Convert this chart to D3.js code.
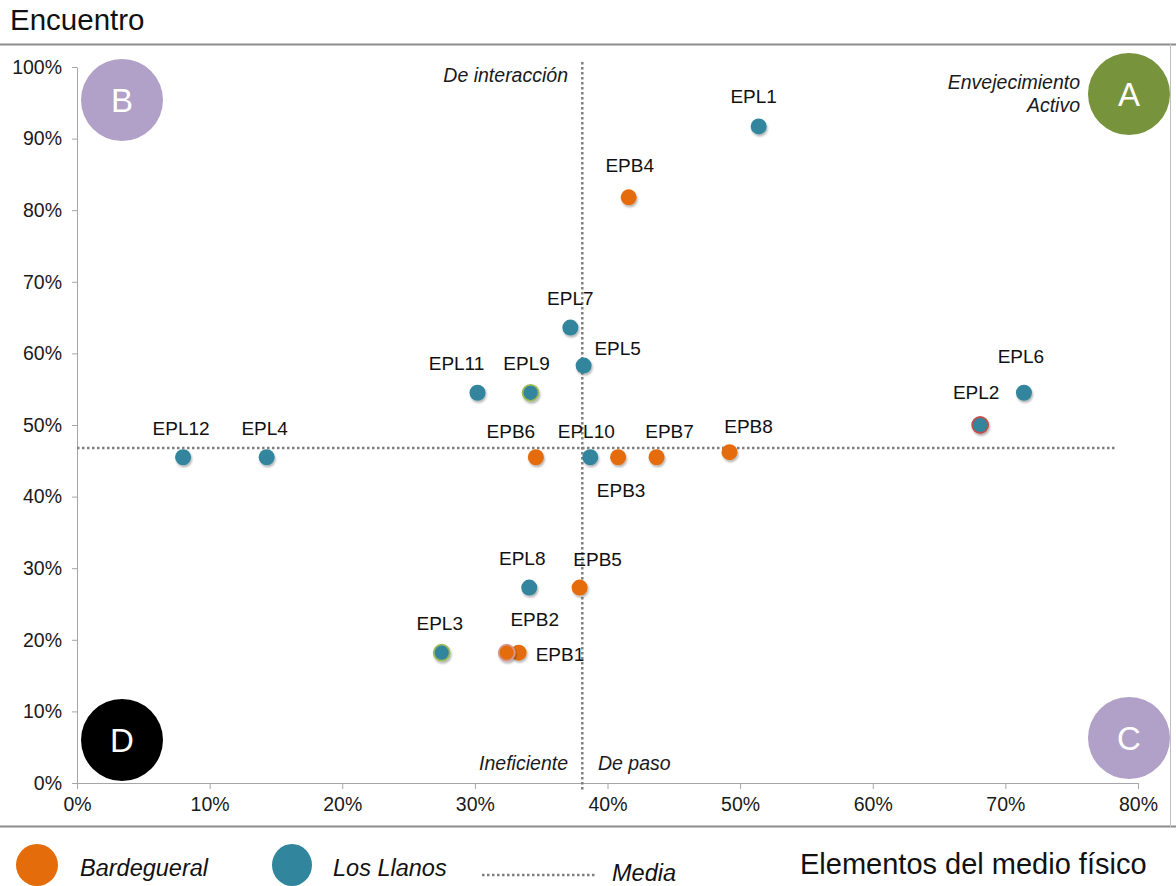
<!DOCTYPE html>
<html>
<head>
<meta charset="utf-8">
<script src="https://d3js.org/d3.v7.min.js"></script>
<style>
  body { margin: 0; background: #fff; font-family: "Liberation Sans", Arial, Helvetica, sans-serif; }
  svg text { font-family: "Liberation Sans", Arial, Helvetica, sans-serif; }
</style>
</head>
<body>
<script>
  // Bardegueral
  const barNames = ['EPB1', 'EPB2', 'EPB3', 'EPB4', 'EPB5', 'EPB6', 'EPB7', 'EPB8']
  const barX = [33.3, 32.4, 40.8, 41.6, 37.9, 34.6, 43.7, 49.2]
  const barY = [18.2, 18.2, 45.5, 81.8, 27.3, 45.5, 45.5, 46.2]

  // Los Llanos
  const llaNames = ['EPL1', 'EPL2', 'EPL3', 'EPL4', 'EPL5', 'EPL6', 'EPL7', 'EPL8', 'EPL9', 'EPL10', 'EPL11', 'EPL12']
  const llaX = [51.4, 68.1, 27.5, 14.3, 38.2, 71.4, 37.2, 34.1, 34.2, 38.7, 30.2, 8.0]
  const llaY = [91.7, 50.0, 18.2, 45.5, 58.3, 54.5, 63.6, 27.3, 54.5, 45.5, 54.5, 45.5]

  // media
  const mediaX = 38.1
  const mediaY = 46.8

  const xTicks = [0, 10, 20, 30, 40, 50, 60, 70, 80]
  const yTicks = [0, 10, 20, 30, 40, 50, 60, 70, 80, 90, 100]

  // label placement (dx, dy from point centre)
  const labelPos = {
    EPB1: [17, 8, 'start'], EPB2: [28, -27, 'middle'], EPB3: [3, 40, 'middle'], EPB4: [1, -25, 'middle'],
    EPB5: [18, -22, 'middle'], EPB6: [-25, -19, 'middle'], EPB7: [13, -19, 'middle'], EPB8: [19, -19, 'middle'],
    EPL1: [-5, -23, 'middle'], EPL2: [-4, -26, 'middle'], EPL3: [-2, -23, 'middle'], EPL4: [-2, -22, 'middle'],
    EPL5: [34, -11, 'middle'], EPL6: [-3, -30, 'middle'], EPL7: [0, -23, 'middle'], EPL8: [-7, -23, 'middle'],
    EPL9: [-4, -23, 'middle'], EPL10: [-4, -19, 'middle'], EPL11: [-21, -23, 'middle'], EPL12: [-2, -22, 'middle']
  }
  // outlined points
  const outline = { EPL9: '#9bbb59', EPL3: '#9bbb59', EPL2: '#c0504d', EPB2: '#d99694' }

  const orange = '#e46c0a'
  const teal = '#31859c'

  const width = 1176
  const height = 886

  const svg = d3.select('body').append('svg').attr('width', width).attr('height', height)

  const defs = svg.append('defs')
  const f = defs.append('filter').attr('id', 'sh').attr('x', '-50%').attr('y', '-50%').attr('width', '200%').attr('height', '200%')
  f.append('feDropShadow').attr('dx', 1).attr('dy', 2).attr('stdDeviation', 1.2).attr('flood-color', '#000').attr('flood-opacity', 0.3)

  const x = d3.scaleLinear().domain([0, 80]).range([77, 1138])
  const y = d3.scaleLinear().domain([0, 100]).range([783, 67])

  // frame
  svg.append('line').attr('x1', 0).attr('x2', width).attr('y1', 44.5).attr('y2', 44.5).style('stroke', '#8c8c8c').style('stroke-width', 2)
  svg.append('line').attr('x1', 0).attr('x2', width).attr('y1', 826.5).attr('y2', 826.5).style('stroke', '#8c8c8c').style('stroke-width', 2)
  svg.append('line').attr('x1', 1170.5).attr('x2', 1170.5).attr('y1', 44).attr('y2', 827).style('stroke', '#bfbfbf').style('stroke-width', 1)

  svg.append('text').attr('x', 10).attr('y', 30).style('font-size', '29.5px').style('fill', '#111').text('Encuentro')

  // axes
  const axisX = d3.axisBottom(x).tickValues(xTicks).tickFormat(d => d + '%').tickSize(6).tickSizeOuter(0)
  const axisY = d3.axisLeft(y).tickValues(yTicks).tickFormat(d => d + '%').tickSize(5).tickSizeOuter(0)

  const gx = svg.append('g').attr('transform', 'translate(0,783)').call(axisX)
  const gy = svg.append('g').attr('transform', 'translate(77,0)').call(axisY)
  ;[gx, gy].forEach(g => {
    g.select('.domain').style('stroke', '#a6a6a6')
    g.selectAll('.tick line').style('stroke', '#a6a6a6')
    g.selectAll('.tick text').style('font-size', '19.5px').style('fill', '#1a1a1a')
  })
  gx.selectAll('.tick text').attr('dy', '0.95em')
  gy.selectAll('.tick text').attr('x', -15)

  // media lines
  svg.append('line')
    .attr('x1', x(mediaX)).attr('x2', x(mediaX)).attr('y1', 62).attr('y2', 790)
    .style('stroke', '#7f7f7f').style('stroke-width', 2.5).style('stroke-dasharray', '2.5,2.5')
  svg.append('line')
    .attr('x1', x(0)).attr('x2', 1116).attr('y1', y(mediaY)).attr('y2', y(mediaY))
    .style('stroke', '#7f7f7f').style('stroke-width', 2.5).style('stroke-dasharray', '2.5,2.5')

  // quadrant badges
  const badges = [
    { t: 'B', cx: 122, cy: 100, c: '#b1a0c7' },
    { t: 'A', cx: 1129, cy: 94, c: '#77933c' },
    { t: 'D', cx: 122, cy: 740, c: '#000000' },
    { t: 'C', cx: 1129, cy: 738, c: '#b1a0c7' }
  ]
  const bg = svg.append('g').selectAll('g').data(badges).join('g')
  bg.append('circle').attr('cx', d => d.cx).attr('cy', d => d.cy).attr('r', 41).style('fill', d => d.c)
  bg.append('text').attr('x', d => d.cx).attr('y', d => d.cy + 12).attr('text-anchor', 'middle')
    .style('font-size', '33px').style('fill', '#fff').text(d => d.t)

  // quadrant names
  const qn = [
    { t: 'De interacción', x: 568, y: 82, a: 'end' },
    { t: 'Envejecimiento', x: 1080, y: 89, a: 'end' },
    { t: 'Activo', x: 1080, y: 112, a: 'end' },
    { t: 'Ineficiente', x: 568, y: 770, a: 'end' },
    { t: 'De paso', x: 598, y: 770, a: 'start' }
  ]
  svg.append('g').selectAll('text').data(qn).join('text')
    .attr('x', d => d.x).attr('y', d => d.y).attr('text-anchor', d => d.a)
    .style('font-size', '19.5px').style('font-style', 'italic').style('fill', '#1a1a1a')
    .text(d => d.t)

  // points
  const points = barNames.map((n, i) => ({ name: n, x: barX[i], y: barY[i], c: orange }))
    .concat(llaNames.map((n, i) => ({ name: n, x: llaX[i], y: llaY[i], c: teal })))

  svg.append('g').selectAll('circle').data(points).join('circle')
    .attr('cx', d => x(d.x)).attr('cy', d => y(d.y)).attr('r', 8)
    .style('fill', d => d.c)
    .style('stroke', d => outline[d.name] || d.c)
    .style('stroke-width', d => outline[d.name] ? 1.8 : 0)
    .attr('filter', 'url(#sh)')

  svg.append('g').selectAll('text').data(points).join('text')
    .attr('x', d => x(d.x) + labelPos[d.name][0])
    .attr('y', d => y(d.y) + labelPos[d.name][1])
    .attr('text-anchor', d => labelPos[d.name][2])
    .style('font-size', '19px').style('fill', '#111')
    .text(d => d.name)

  // legend
  const legend = svg.append('g')
  legend.append('ellipse').attr('cx', 37).attr('cy', 865).attr('rx', 21).attr('ry', 21).style('fill', orange)
  legend.append('text').attr('x', 80).attr('y', 876).style('font-size', '23.5px').style('font-style', 'italic').style('fill', '#111').text('Bardegueral')
  legend.append('ellipse').attr('cx', 292).attr('cy', 865).attr('rx', 20).attr('ry', 21).style('fill', teal)
  legend.append('text').attr('x', 333).attr('y', 876).style('font-size', '23.5px').style('font-style', 'italic').style('fill', '#111').text('Los Llanos')
  legend.append('line').attr('x1', 482).attr('x2', 596).attr('y1', 875).attr('y2', 875)
    .style('stroke', '#7f7f7f').style('stroke-width', 2.5).style('stroke-dasharray', '2.5,2.5')
  legend.append('text').attr('x', 612).attr('y', 881).style('font-size', '23.5px').style('font-style', 'italic').style('fill', '#111').text('Media')
  legend.append('text').attr('x', 800).attr('y', 874).style('font-size', '29px').style('fill', '#111').text('Elementos del medio físico')
</script>
</body>
</html>
